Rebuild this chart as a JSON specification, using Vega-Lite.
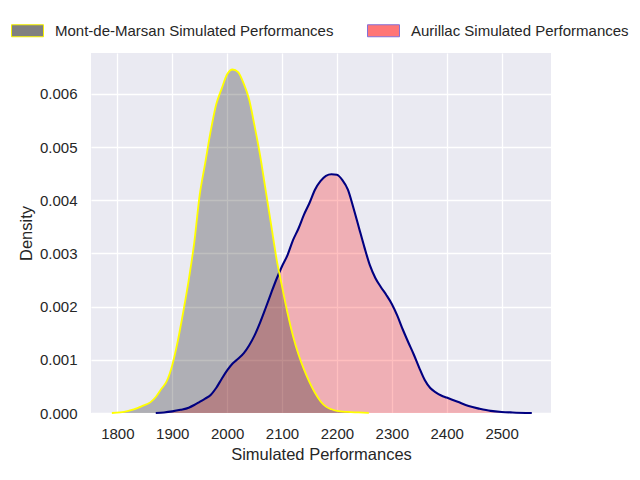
{
  "$schema": "https://vega.github.io/schema/vega-lite/v6.json",
  "width": 460,
  "height": 360,
  "autosize": "none",
  "padding": {"left": 91, "top": 53, "right": 89, "bottom": 67},
  "background": "#ffffff",
  "config": {
    "view": {"fill": "#EAEAF2", "stroke": null},
    "font": "Liberation Sans",
    "axis": {
      "domain": false,
      "ticks": false,
      "tickSize": 0,
      "grid": true,
      "gridColor": "#ffffff",
      "gridWidth": 1.3,
      "labelFont": "Liberation Sans",
      "labelFontSize": 15,
      "labelColor": "#262626",
      "titleFont": "Liberation Sans",
      "titleFontSize": 16.5,
      "titleFontWeight": "normal",
      "titleColor": "#262626"
    }
  },
  "data": {
    "values": [
      {"city": "Mont-de-Marsan Simulated Performances", "perf": 1790, "density": 0},
      {"city": "Mont-de-Marsan Simulated Performances", "perf": 1805, "density": 0.00001},
      {"city": "Mont-de-Marsan Simulated Performances", "perf": 1820, "density": 0.00004},
      {"city": "Mont-de-Marsan Simulated Performances", "perf": 1830, "density": 0.00007},
      {"city": "Mont-de-Marsan Simulated Performances", "perf": 1845, "density": 0.00013},
      {"city": "Mont-de-Marsan Simulated Performances", "perf": 1860, "density": 0.0002},
      {"city": "Mont-de-Marsan Simulated Performances", "perf": 1870, "density": 0.0003},
      {"city": "Mont-de-Marsan Simulated Performances", "perf": 1880, "density": 0.00045},
      {"city": "Mont-de-Marsan Simulated Performances", "perf": 1890, "density": 0.0006},
      {"city": "Mont-de-Marsan Simulated Performances", "perf": 1900, "density": 0.0009},
      {"city": "Mont-de-Marsan Simulated Performances", "perf": 1910, "density": 0.00135},
      {"city": "Mont-de-Marsan Simulated Performances", "perf": 1920, "density": 0.0019},
      {"city": "Mont-de-Marsan Simulated Performances", "perf": 1930, "density": 0.0025},
      {"city": "Mont-de-Marsan Simulated Performances", "perf": 1940, "density": 0.0032},
      {"city": "Mont-de-Marsan Simulated Performances", "perf": 1950, "density": 0.0041},
      {"city": "Mont-de-Marsan Simulated Performances", "perf": 1960, "density": 0.0047},
      {"city": "Mont-de-Marsan Simulated Performances", "perf": 1970, "density": 0.0053},
      {"city": "Mont-de-Marsan Simulated Performances", "perf": 1980, "density": 0.0058},
      {"city": "Mont-de-Marsan Simulated Performances", "perf": 1990, "density": 0.0061},
      {"city": "Mont-de-Marsan Simulated Performances", "perf": 2000, "density": 0.00637},
      {"city": "Mont-de-Marsan Simulated Performances", "perf": 2010, "density": 0.00646},
      {"city": "Mont-de-Marsan Simulated Performances", "perf": 2020, "density": 0.00641},
      {"city": "Mont-de-Marsan Simulated Performances", "perf": 2030, "density": 0.0062},
      {"city": "Mont-de-Marsan Simulated Performances", "perf": 2040, "density": 0.0059},
      {"city": "Mont-de-Marsan Simulated Performances", "perf": 2050, "density": 0.0054},
      {"city": "Mont-de-Marsan Simulated Performances", "perf": 2060, "density": 0.00485},
      {"city": "Mont-de-Marsan Simulated Performances", "perf": 2070, "density": 0.0042},
      {"city": "Mont-de-Marsan Simulated Performances", "perf": 2080, "density": 0.00355},
      {"city": "Mont-de-Marsan Simulated Performances", "perf": 2090, "density": 0.0029},
      {"city": "Mont-de-Marsan Simulated Performances", "perf": 2100, "density": 0.00238},
      {"city": "Mont-de-Marsan Simulated Performances", "perf": 2110, "density": 0.00188},
      {"city": "Mont-de-Marsan Simulated Performances", "perf": 2120, "density": 0.00145},
      {"city": "Mont-de-Marsan Simulated Performances", "perf": 2130, "density": 0.0011},
      {"city": "Mont-de-Marsan Simulated Performances", "perf": 2140, "density": 0.00082},
      {"city": "Mont-de-Marsan Simulated Performances", "perf": 2150, "density": 0.00058},
      {"city": "Mont-de-Marsan Simulated Performances", "perf": 2160, "density": 0.00038},
      {"city": "Mont-de-Marsan Simulated Performances", "perf": 2170, "density": 0.00022},
      {"city": "Mont-de-Marsan Simulated Performances", "perf": 2180, "density": 0.00012},
      {"city": "Mont-de-Marsan Simulated Performances", "perf": 2190, "density": 0.00007},
      {"city": "Mont-de-Marsan Simulated Performances", "perf": 2200, "density": 0.00004},
      {"city": "Mont-de-Marsan Simulated Performances", "perf": 2220, "density": 0.00002},
      {"city": "Mont-de-Marsan Simulated Performances", "perf": 2240, "density": 0.00001},
      {"city": "Mont-de-Marsan Simulated Performances", "perf": 2258, "density": 0},
      {"city": "Aurillac Simulated Performances", "perf": 1870, "density": 0},
      {"city": "Aurillac Simulated Performances", "perf": 1885, "density": 0.00001},
      {"city": "Aurillac Simulated Performances", "perf": 1900, "density": 0.00003},
      {"city": "Aurillac Simulated Performances", "perf": 1915, "density": 0.00006},
      {"city": "Aurillac Simulated Performances", "perf": 1930, "density": 0.0001},
      {"city": "Aurillac Simulated Performances", "perf": 1940, "density": 0.00015},
      {"city": "Aurillac Simulated Performances", "perf": 1950, "density": 0.00021},
      {"city": "Aurillac Simulated Performances", "perf": 1960, "density": 0.00027},
      {"city": "Aurillac Simulated Performances", "perf": 1970, "density": 0.00034},
      {"city": "Aurillac Simulated Performances", "perf": 1980, "density": 0.00047},
      {"city": "Aurillac Simulated Performances", "perf": 1990, "density": 0.00064},
      {"city": "Aurillac Simulated Performances", "perf": 2000, "density": 0.0008},
      {"city": "Aurillac Simulated Performances", "perf": 2010, "density": 0.00093},
      {"city": "Aurillac Simulated Performances", "perf": 2020, "density": 0.00102},
      {"city": "Aurillac Simulated Performances", "perf": 2030, "density": 0.00112},
      {"city": "Aurillac Simulated Performances", "perf": 2040, "density": 0.00127},
      {"city": "Aurillac Simulated Performances", "perf": 2050, "density": 0.00146},
      {"city": "Aurillac Simulated Performances", "perf": 2060, "density": 0.0017},
      {"city": "Aurillac Simulated Performances", "perf": 2070, "density": 0.00197},
      {"city": "Aurillac Simulated Performances", "perf": 2080, "density": 0.00225},
      {"city": "Aurillac Simulated Performances", "perf": 2090, "density": 0.00252},
      {"city": "Aurillac Simulated Performances", "perf": 2100, "density": 0.00276},
      {"city": "Aurillac Simulated Performances", "perf": 2110, "density": 0.00297},
      {"city": "Aurillac Simulated Performances", "perf": 2120, "density": 0.00325},
      {"city": "Aurillac Simulated Performances", "perf": 2130, "density": 0.00347},
      {"city": "Aurillac Simulated Performances", "perf": 2140, "density": 0.00373},
      {"city": "Aurillac Simulated Performances", "perf": 2150, "density": 0.00395},
      {"city": "Aurillac Simulated Performances", "perf": 2160, "density": 0.0042},
      {"city": "Aurillac Simulated Performances", "perf": 2170, "density": 0.00436},
      {"city": "Aurillac Simulated Performances", "perf": 2180, "density": 0.00446},
      {"city": "Aurillac Simulated Performances", "perf": 2190, "density": 0.00449},
      {"city": "Aurillac Simulated Performances", "perf": 2200, "density": 0.00448},
      {"city": "Aurillac Simulated Performances", "perf": 2210, "density": 0.00438},
      {"city": "Aurillac Simulated Performances", "perf": 2220, "density": 0.0042},
      {"city": "Aurillac Simulated Performances", "perf": 2230, "density": 0.00386},
      {"city": "Aurillac Simulated Performances", "perf": 2240, "density": 0.00349},
      {"city": "Aurillac Simulated Performances", "perf": 2250, "density": 0.00312},
      {"city": "Aurillac Simulated Performances", "perf": 2260, "density": 0.00278},
      {"city": "Aurillac Simulated Performances", "perf": 2270, "density": 0.00254},
      {"city": "Aurillac Simulated Performances", "perf": 2280, "density": 0.00237},
      {"city": "Aurillac Simulated Performances", "perf": 2290, "density": 0.00222},
      {"city": "Aurillac Simulated Performances", "perf": 2300, "density": 0.00205},
      {"city": "Aurillac Simulated Performances", "perf": 2310, "density": 0.00183},
      {"city": "Aurillac Simulated Performances", "perf": 2320, "density": 0.00157},
      {"city": "Aurillac Simulated Performances", "perf": 2330, "density": 0.00133},
      {"city": "Aurillac Simulated Performances", "perf": 2340, "density": 0.0011},
      {"city": "Aurillac Simulated Performances", "perf": 2350, "density": 0.00085},
      {"city": "Aurillac Simulated Performances", "perf": 2360, "density": 0.00062},
      {"city": "Aurillac Simulated Performances", "perf": 2370, "density": 0.00047},
      {"city": "Aurillac Simulated Performances", "perf": 2380, "density": 0.00039},
      {"city": "Aurillac Simulated Performances", "perf": 2390, "density": 0.00033},
      {"city": "Aurillac Simulated Performances", "perf": 2400, "density": 0.00029},
      {"city": "Aurillac Simulated Performances", "perf": 2420, "density": 0.00021},
      {"city": "Aurillac Simulated Performances", "perf": 2440, "density": 0.00013},
      {"city": "Aurillac Simulated Performances", "perf": 2460, "density": 0.00008},
      {"city": "Aurillac Simulated Performances", "perf": 2480, "density": 0.00004},
      {"city": "Aurillac Simulated Performances", "perf": 2500, "density": 0.00002},
      {"city": "Aurillac Simulated Performances", "perf": 2520, "density": 0.00001},
      {"city": "Aurillac Simulated Performances", "perf": 2555, "density": 0}
    ]
  },
  "encoding": {
    "x": {
      "field": "perf",
      "type": "quantitative",
      "scale": {"domain": [1752, 2590], "nice": false, "zero": false},
      "axis": {
        "title": "Simulated Performances",
        "values": [1800, 1900, 2000, 2100, 2200, 2300, 2400, 2500],
        "format": "d",
        "labelPadding": 13,
        "titleBaseline": "alphabetic",
        "titleY": 46
      }
    },
    "y": {
      "field": "density",
      "type": "quantitative",
      "scale": {"domain": [0, 0.00677], "nice": false},
      "axis": {
        "title": "Density",
        "values": [0, 0.001, 0.002, 0.003, 0.004, 0.005, 0.006],
        "format": ".3f",
        "labelPadding": 14,
        "titleBaseline": "alphabetic",
        "titleX": -60
      }
    }
  },
  "layer": [
    {
      "transform": [{"filter": "datum.city === 'none'"}],
      "mark": {"type": "area"},
      "encoding": {
        "color": {
          "field": "city",
          "type": "nominal",
          "scale": {
            "domain": ["Mont-de-Marsan Simulated Performances", "Aurillac Simulated Performances"],
            "range": ["#808080", "#ff7676"]
          },
          "legend": {
            "title": null,
            "orient": "none",
            "direction": "horizontal",
            "legendX": -80,
            "legendY": -39,
            "padding": 0,
            "symbolType": "M-1,-0.375L1,-0.375L1,0.375L-1,0.375Z",
            "symbolSize": 1024,
            "symbolStrokeWidth": 1,
            "symbolOpacity": 1,
            "labelFont": "Liberation Sans",
            "labelFontSize": 15,
            "labelColor": "#262626",
            "labelLimit": 0,
            "labelOffset": 11,
            "columnPadding": 31,
            "encode": {
              "symbols": {
                "update": {
                  "stroke": {"signal": "datum.value === 'Aurillac Simulated Performances' ? '#8470d8' : '#f4f000'"},
                  "strokeWidth": {"value": 1}
                }
              }
            }
          }
        }
      }
    },
    {
      "transform": [{"filter": "datum.city === 'Aurillac Simulated Performances'"}],
      "mark": {"type": "area", "interpolate": "monotone", "color": "#ff0000", "fillOpacity": 0.25},
      "encoding": {}
    },
    {
      "transform": [{"filter": "datum.city === 'Mont-de-Marsan Simulated Performances'"}],
      "mark": {"type": "area", "interpolate": "monotone", "color": "#000000", "fillOpacity": 0.25},
      "encoding": {}
    },
    {
      "transform": [{"filter": "datum.city === 'Aurillac Simulated Performances'"}],
      "mark": {"type": "line", "interpolate": "monotone", "color": "#000080", "strokeWidth": 2.1},
      "encoding": {}
    },
    {
      "transform": [{"filter": "datum.city === 'Mont-de-Marsan Simulated Performances'"}],
      "mark": {"type": "line", "interpolate": "monotone", "color": "#ffff00", "strokeWidth": 1.8},
      "encoding": {}
    }
  ]
}
